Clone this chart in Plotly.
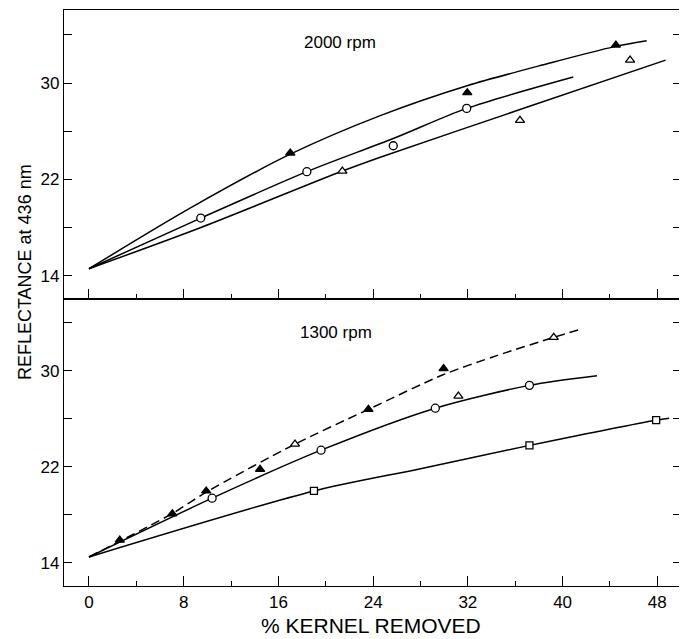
import plotly.graph_objects as go

# ---------------- DATA ----------------
# Top panel: 2000 rpm
top_filled_tri_x = [17.0, 31.95, 44.5]
top_filled_tri_y = [24.2, 29.2, 33.15]
top_circle_x = [9.44, 18.4, 25.7, 31.9]
top_circle_y = [18.8, 22.65, 24.8, 27.9]
top_open_tri_x = [21.4, 36.4, 45.7]
top_open_tri_y = [22.7, 26.9, 31.9]

top_curveA_x = [0, 8.5, 17.0, 24.6, 32.0, 38.7, 44.3, 47.1]
top_curveA_y = [14.6, 19.6, 24.1, 27.3, 29.8, 31.6, 33.0, 33.5]
top_curveB_x = [0, 9.44, 18.4, 25.7, 31.9, 40.9]
top_curveB_y = [14.6, 18.8, 22.65, 25.4, 27.9, 30.5]
top_curveC_x = [0, 9.4, 21.4, 24.6, 36.4, 48.7]
top_curveC_y = [14.6, 18.0, 22.7, 23.85, 27.8, 31.9]

# Bottom panel: 1300 rpm
bot_filled_tri_x = [2.6, 7.04, 9.9, 14.45, 23.6, 29.95]
bot_filled_tri_y = [15.9, 18.1, 20.0, 21.8, 26.8, 30.2]
bot_open_tri_x = [17.4, 31.2, 39.25]
bot_open_tri_y = [23.9, 27.9, 32.8]
bot_circle_x = [10.4, 19.6, 29.25, 37.2]
bot_circle_y = [19.4, 23.4, 26.9, 28.8]
bot_square_x = [19.0, 37.2, 47.9]
bot_square_y = [20.0, 23.8, 25.9]

bot_dash_x = [0, 7.0, 9.9, 17.4, 23.6, 29.95, 34.5, 39.25, 41.6]
bot_dash_y = [14.5, 18.1, 19.9, 23.9, 26.8, 29.7, 31.3, 32.8, 33.5]
bot_circle_curve_x = [0, 10.4, 19.6, 29.25, 37.2, 42.9]
bot_circle_curve_y = [14.5, 19.4, 23.4, 26.9, 28.8, 29.6]
bot_square_curve_x = [0, 19.0, 28.0, 37.2, 47.9, 49.0]
bot_square_curve_y = [14.5, 20.0, 21.85, 23.8, 25.9, 26.05]

x_tick_vals = [0, 8, 16, 24, 32, 40, 48]
x_tick_text = ["0", "8", "16", "24", "32", "40", "48"]
y_tick_vals = [14, 18, 22, 26, 30, 34]
y_tick_text = ["14", "", "22", "", "30", ""]

FONT = "Liberation Sans, Arial, sans-serif"
LW = 1.5

fig = go.Figure()

def curve(x, y, xa, ya, dash="solid"):
    fig.add_trace(go.Scatter(x=x, y=y, mode="lines", xaxis=xa, yaxis=ya,
                             line=dict(color="black", width=LW, dash=dash,
                                       shape="spline", smoothing=0.8),
                             showlegend=False, hoverinfo="skip"))

def marks(x, y, xa, ya, symbol, fill, size=8):
    fig.add_trace(go.Scatter(x=x, y=y, mode="markers", xaxis=xa, yaxis=ya,
                             marker=dict(symbol=symbol, size=size, color=fill,
                                         line=dict(color="black", width=1.3)),
                             showlegend=False))

# top panel
curve(top_curveA_x, top_curveA_y, "x", "y")
curve(top_curveB_x, top_curveB_y, "x", "y")
curve(top_curveC_x, top_curveC_y, "x", "y")
marks(top_filled_tri_x, top_filled_tri_y, "x", "y", "triangle-up", "black")
marks(top_circle_x, top_circle_y, "x", "y", "circle", "white", 8)
marks(top_open_tri_x, top_open_tri_y, "x", "y", "triangle-up", "white")

# bottom panel
curve(bot_dash_x, bot_dash_y, "x2", "y2", dash="9px,5px")
curve(bot_circle_curve_x, bot_circle_curve_y, "x2", "y2")
curve(bot_square_curve_x, bot_square_curve_y, "x2", "y2")
marks(bot_filled_tri_x, bot_filled_tri_y, "x2", "y2", "triangle-up", "black")
marks(bot_open_tri_x, bot_open_tri_y, "x2", "y2", "triangle-up", "white")
marks(bot_circle_x, bot_circle_y, "x2", "y2", "circle", "white", 8)
marks(bot_square_x, bot_square_y, "x2", "y2", "square", "white", 7)

xcommon = dict(range=[-2.11, 50.0], tickvals=x_tick_vals, ticktext=x_tick_text,
               ticks="inside", ticklen=10, tickwidth=1.2, tickcolor="black",
               minor=dict(ticks="inside", ticklen=5, dtick=4, tick0=0,
                          tickcolor="black", tickwidth=1.2),
               showline=True, linecolor="black", linewidth=1.3, mirror=True,
               showgrid=False, zeroline=False, automargin=False,
               tickfont=dict(family=FONT, size=17, color="black"))
ycommon = dict(tickvals=y_tick_vals, ticktext=y_tick_text,
               ticks="inside", ticklen=8, tickwidth=1.2, tickcolor="black",
               showline=True, linecolor="black", linewidth=1.3, mirror="ticks",
               showgrid=False, zeroline=False, automargin=False,
               tickfont=dict(family=FONT, size=17, color="black"))

split = 0.4983
# page body has an 8px default margin: figure is 8px smaller and margins shifted
fig.update_layout(
    template="none",
    width=679, height=631,
    margin=dict(l=56, r=6, t=2, b=53, autoexpand=False),
    paper_bgcolor="white", plot_bgcolor="white",
    showlegend=False,
    xaxis=dict(xcommon, anchor="y", showticklabels=False),
    yaxis=dict(ycommon, domain=[split, 1.0], range=[12.09, 36.06], anchor="x"),
    xaxis2=dict(xcommon, anchor="y2", showticklabels=True),
    yaxis2=dict(ycommon, domain=[0.0, split], range=[12.08, 36.0], anchor="x2"),
    annotations=[
        dict(text="2000 rpm", x=21.2, y=33.4, xref="x", yref="y",
             showarrow=False, font=dict(family=FONT, size=17, color="black")),
        dict(text="1300 rpm", x=20.9, y=33.2, xref="x2", yref="y2",
             showarrow=False, font=dict(family=FONT, size=17, color="black")),
        dict(text="REFLECTANCE at 436 nm", x=-0.0632, y=0.545, xref="paper",
             yref="paper", textangle=-90, showarrow=False, xanchor="center",
             yanchor="middle", font=dict(family=FONT, size=18, color="black")),
        dict(text="% KERNEL REMOVED", x=0.4976, y=-0.0694, xref="paper",
             yref="paper", showarrow=False, xanchor="center", yanchor="middle",
             font=dict(family=FONT, size=21, color="black")),
    ],
)

fig.write_html("out.html")
